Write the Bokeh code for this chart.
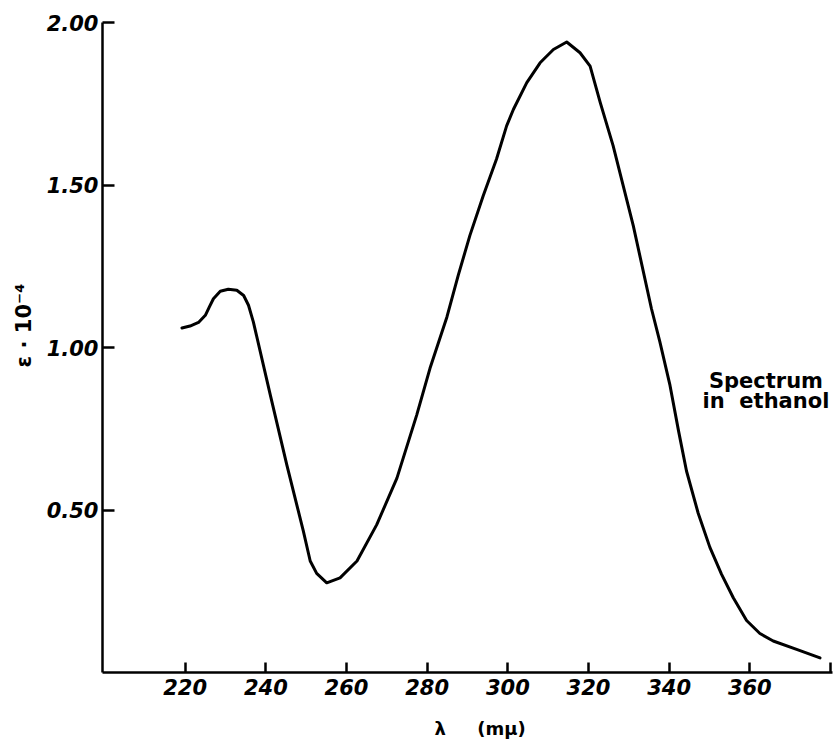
from bokeh.plotting import figure
from bokeh.models import Label, Range1d, FixedTicker
from bokeh.embed import file_html
from bokeh.resources import INLINE

# wavelength (m-mu) and epsilon*10^-4
wavelength = [219.2, 221.2, 223.3, 225.0, 226.0, 227.0, 228.7, 230.7, 232.8, 234.5,
              235.7, 236.9, 241.1, 245.2, 249.3, 251.0, 252.6, 255.1, 258.4, 262.6,
              267.5, 272.5, 277.4, 280.7, 284.9, 287.7, 290.6, 293.9, 297.2, 299.7,
              301.4, 304.7, 308.0, 311.3, 314.6, 317.9, 320.4, 322.9, 326.1, 331.1,
              335.6, 337.7, 340.2, 342.3, 344.3, 347.2, 350.1, 353.0, 355.9, 359.2,
              362.5, 365.8, 371.6, 377.4]
epsilon = [1.060, 1.066, 1.077, 1.099, 1.125, 1.150, 1.173, 1.179, 1.176, 1.160,
           1.130, 1.079, 0.854, 0.639, 0.435, 0.343, 0.305, 0.276, 0.291, 0.343,
           0.455, 0.598, 0.792, 0.936, 1.094, 1.222, 1.345, 1.467, 1.580, 1.682,
           1.733, 1.815, 1.876, 1.917, 1.940, 1.907, 1.866, 1.754, 1.621, 1.375,
           1.120, 1.017, 0.884, 0.745, 0.620, 0.490, 0.385, 0.302, 0.230, 0.160,
           0.120, 0.097, 0.071, 0.045]

x_ticks = [220, 240, 260, 280, 300, 320, 340, 360, 380]
x_tick_labels = ["220", "240", "260", "280", "300", "320", "340", "360", ""]
y_ticks = [0.5, 1.0, 1.5, 2.0]
y_tick_labels = ["0.50", "1.00", "1.50", "2.00"]

NB = "\u00a0"

p = figure(width=834, height=742, output_backend="svg", toolbar_location=None,
           x_range=Range1d(199.5, 380.5), y_range=Range1d(0.0, 2.0))
p.min_border_left = 102
p.min_border_right = 2
p.min_border_top = 22
p.min_border_bottom = 70
p.outline_line_color = None
p.background_fill_color = "white"
p.border_fill_color = "white"
p.xgrid.visible = False
p.ygrid.visible = False

p.line(wavelength, epsilon, line_color="black", line_width=3, line_join="round", line_cap="round")

font = "DejaVu Sans"
for ax in (p.xaxis[0], p.yaxis[0]):
    ax.axis_line_width = 2.5
    ax.axis_line_color = "black"
    ax.major_tick_line_width = 2.5
    ax.major_tick_line_color = "black"
    ax.major_tick_out = 0
    ax.minor_tick_line_color = None
    ax.major_label_text_font = font
    ax.major_label_text_font_style = "bold italic"
    ax.major_label_text_font_size = "21px"
    ax.major_label_text_color = "black"
    ax.axis_label_text_font = font
    ax.axis_label_text_font_style = "bold"
    ax.axis_label_text_color = "black"

xa = p.xaxis[0]
xa.ticker = FixedTicker(ticks=x_ticks)
xa.major_label_overrides = {t: l for t, l in zip(x_ticks, x_tick_labels)}
xa.major_tick_in = 10
xa.major_label_standoff = 6
xa.axis_label = NB * 4 + "λ" + NB * 5 + "(mμ)"
xa.axis_label_text_font_size = "18px"
xa.axis_label_standoff = 20

ya = p.yaxis[0]
ya.ticker = FixedTicker(ticks=y_ticks)
ya.major_label_overrides = {t: l for t, l in zip(y_ticks, y_tick_labels)}
ya.major_tick_in = 12
ya.major_label_standoff = 4
ya.axis_label = NB * 6 + "ε · 10⁻⁴"
ya.axis_label_text_font_size = "21px"
ya.axis_label_standoff = 8

p.add_layout(Label(x=364.0, y=0.896, text="Spectrum",
                   text_align="center", text_baseline="middle",
                   text_font=font, text_font_size="21px", text_font_style="bold",
                   text_color="black"))
p.add_layout(Label(x=364.0, y=0.835, text="in" + NB * 2 + "ethanol",
                   text_align="center", text_baseline="middle",
                   text_font=font, text_font_size="21px", text_font_style="bold",
                   text_color="black"))

open("out.html", "w").write(file_html(p, INLINE))
